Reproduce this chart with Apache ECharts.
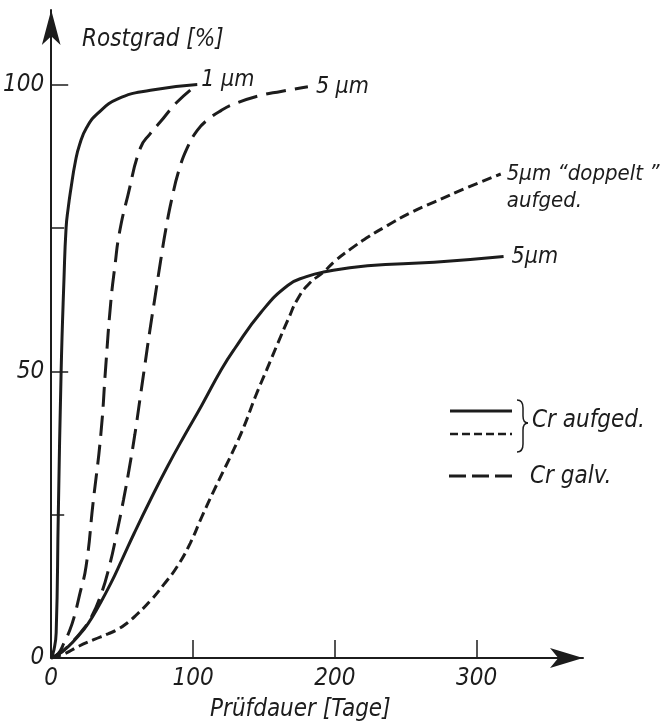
<!DOCTYPE html>
<html>
<head>
<meta charset="utf-8">
<script src="https://cdn.jsdelivr.net/npm/echarts@6/dist/echarts.min.js"></script>
<style>
html,body{margin:0;padding:0;background:#fff;}
#chart{width:665px;height:726px;}
</style>
</head>
<body>
<div id="chart"></div>
<script>
// ---- Data (Prüfdauer [Tage] vs Rostgrad [%]) ----
const xTickLabels = [0, 100, 200, 300];
const yTickLabels = [0, 50, 100];
const yMinorTicks = [25, 75];

// 1 µm, Cr aufged. (solid)
const daysSolid1 = [0, 2, 3.5, 5, 7, 9, 10.5, 12, 14, 17, 20, 25, 33, 47, 70, 103];
const rustSolid1 = [0, 1.5, 4.4, 25, 50, 66, 75, 78.5, 82, 86.5, 89.5, 92.5, 95, 97.5, 99, 100];

// 1 µm, Cr galv. (long dash)
const daysGalv1 = [0, 5, 9, 13, 16, 20, 24.6, 29.5, 35, 38.5, 42, 45, 48, 54, 63, 70, 77, 89, 103];
const rustGalv1 = [0, 0.8, 2.6, 4.8, 7, 11, 16, 27, 39, 51, 62, 68.5, 74, 80.6, 89, 91.5, 93.5, 97, 100];

// 5 µm, Cr galv. (long dash)
const daysGalv5 = [0, 7, 14, 21, 28, 35, 41, 46, 51, 55, 59, 62.5, 66, 69.5, 73, 77, 81, 85, 90, 96, 103, 110, 120, 129, 146, 162, 181];
const rustGalv5 = [0, 1, 2.6, 4.5, 7, 11, 16, 21.5, 27.6, 33, 39, 45, 51, 57, 62.6, 69, 75, 80, 85, 89, 92, 93.8, 95.5, 96.6, 98, 98.8, 99.6];

// 5 µm, Cr aufged. (solid)
const daysSolid5 = [0, 5, 12, 19, 26, 34, 42, 50, 58.6, 70, 82, 94, 106, 120, 129, 148, 167, 180, 192, 223, 270, 319];
const rustSolid5 = [0, 0.6, 2, 3.8, 6, 9.3, 13, 17.2, 21.8, 27.6, 33.4, 38.8, 44, 50.3, 53.8, 60.3, 65, 66.5, 67.3, 68.4, 69, 70];

// 5 µm "doppelt" aufged. (short dash)
const daysDouble5 = [0, 10, 19, 30, 40, 47, 54, 60, 70, 80, 89, 98, 106, 114, 122, 129, 136, 144, 152, 160, 167, 174, 182, 192, 200, 211, 224, 237, 253, 270, 293, 317];
const rustDouble5 = [0, 0.8, 2, 3.2, 4.2, 5, 6.2, 7.5, 10, 13, 16, 20, 24.5, 28.8, 32.9, 36.5, 40.4, 45.6, 50.3, 55, 59, 62.7, 65.3, 67.3, 69.2, 71.3, 73.5, 75.4, 77.6, 79.5, 82, 84.4];

const seriesNames = ['1 µm Cr aufged.', '1 µm Cr galv.', '5 µm Cr galv.', '5 µm Cr aufged.', '5 µm doppelt aufged.'];

// ---- Build ----
const pairs = (xs, ys) => xs.map((x, i) => [x, ys[i]]);
const INK = '#1c1c1c';
const FONT = "'Liberation Sans Narrow', 'DejaVu Sans Condensed', 'Roboto', sans-serif";
const txt = (size) => ({ color: INK, fontFamily: FONT, fontStyle: 'italic', fontSize: size });

function line(name, data, type, width, endLabel) {
  const s = {
    name, type: 'line', data, showSymbol: false, smooth: 0.5,
    lineStyle: { color: INK, width: width, type: type, cap: 'butt' },
    silent: true, z: 3
  };
  if (endLabel) s.endLabel = Object.assign({ show: true }, endLabel);
  return s;
}

const braceStyle = { stroke: INK, lineWidth: 1.5, fill: null };

const chart = echarts.init(document.getElementById('chart'), null, { renderer: 'canvas' });
chart.setOption({
  animation: false,
  backgroundColor: '#fff',
  grid: { left: 50, right: 82, top: 10, bottom: 68, containLabel: false },
  xAxis: {
    type: 'value', min: 0, max: 375,
    axisLine: { show: true, lineStyle: { color: INK, width: 2 }, symbol: ['none', 'arrow'], symbolSize: [15, 33], symbolOffset: [0, 0] },
    axisTick: { show: true, inside: true, length: 18, lineStyle: { color: INK, width: 1.5 }, customValues: [100, 200, 300] },
    axisLabel: Object.assign(txt(24), { customValues: xTickLabels, margin: 9 }),
    splitLine: { show: false }
  },
  yAxis: [{
    type: 'value', min: 0, max: 113,
    axisLine: { show: true, lineStyle: { color: INK, width: 2 }, symbol: ['none', 'arrow'], symbolSize: [14, 35], symbolOffset: [0, 0] },
    axisTick: { show: true, inside: true, length: 17, lineStyle: { color: INK, width: 1.5 }, customValues: [50, 100] },
    axisLabel: Object.assign(txt(24), { customValues: yTickLabels, margin: 7 }),
    splitLine: { show: false }
  }, {
    type: 'value', min: 0, max: 113, position: 'left', offset: 0,
    axisLine: { show: false },
    axisTick: { show: true, inside: true, length: 13, lineStyle: { color: INK, width: 1.5 }, customValues: yMinorTicks },
    axisLabel: { show: false },
    splitLine: { show: false }
  }],
  series: [
    line(seriesNames[0], pairs(daysSolid1, rustSolid1), 'solid', 3, null),
    line(seriesNames[1], pairs(daysGalv1, rustGalv1), [20, 9], 3,
      Object.assign(txt(23), { formatter: '1 µm', distance: 4, offset: [0, -5] })),
    line(seriesNames[2], pairs(daysGalv5, rustGalv5), [20, 9], 3,
      Object.assign(txt(23), { formatter: '5 µm', distance: 8, offset: [0, 0] })),
    line(seriesNames[3], pairs(daysSolid5, rustSolid5), 'solid', 3,
      Object.assign(txt(23), { formatter: '5µm', distance: 8, offset: [0, 0] })),
    line(seriesNames[4], pairs(daysDouble5, rustDouble5), [10, 5], 3,
      Object.assign(txt(22), { formatter: '5µm \u201cdoppelt \u201d\naufged.', lineHeight: 27, distance: 6, offset: [0, 14] }))
  ],
  graphic: [
    { type: 'text', x: 82, y: 28, style: { text: 'Rostgrad [%]', fill: INK, font: "italic 24px " + FONT } },
    { type: 'text', x: 210, y: 698, style: { text: 'Prüfdauer [Tage]', fill: INK, font: "italic 24px " + FONT } },
    // legend
    { type: 'line', shape: { x1: 450, y1: 411, x2: 512, y2: 411 }, style: { stroke: INK, lineWidth: 2.8 } },
    { type: 'line', shape: { x1: 450, y1: 434, x2: 512, y2: 434 }, style: { stroke: INK, lineWidth: 2.6, lineDash: [8, 4] } },
    { type: 'bezierCurve', shape: { x1: 517, y1: 400, x2: 523, y2: 408, cpx1: 523, cpy1: 400 }, style: braceStyle },
    { type: 'line', shape: { x1: 523, y1: 408, x2: 523, y2: 416 }, style: braceStyle },
    { type: 'bezierCurve', shape: { x1: 523, y1: 416, x2: 528, y2: 423, cpx1: 523, cpy1: 423 }, style: braceStyle },
    { type: 'bezierCurve', shape: { x1: 528, y1: 423, x2: 523, y2: 430, cpx1: 523, cpy1: 423 }, style: braceStyle },
    { type: 'line', shape: { x1: 523, y1: 430, x2: 523, y2: 444 }, style: braceStyle },
    { type: 'bezierCurve', shape: { x1: 523, y1: 444, x2: 517, y2: 452, cpx1: 523, cpy1: 452 }, style: braceStyle },
    { type: 'text', x: 532, y: 409, style: { text: 'Cr aufged.', fill: INK, font: "italic 24px " + FONT } },
    { type: 'line', shape: { x1: 449, y1: 476, x2: 512, y2: 476 }, style: { stroke: INK, lineWidth: 2.8, lineDash: [17, 6] } },
    { type: 'text', x: 530, y: 465, style: { text: 'Cr galv.', fill: INK, font: "italic 24px " + FONT } }
  ]
});
</script>
</body>
</html>
